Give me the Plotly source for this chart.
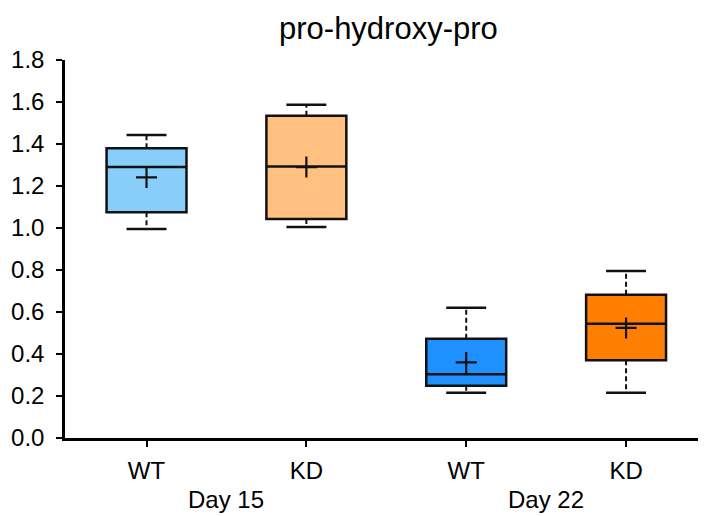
import plotly.graph_objects as go

groups = ["WT", "KD", "WT", "KD"]
days = ["Day 15", "Day 22"]
lower = [0.995, 1.005, 0.216, 0.216]
q1 = [1.075, 1.043, 0.249, 0.370]
median = [1.290, 1.293, 0.303, 0.544]
q3 = [1.380, 1.535, 0.473, 0.682]
upper = [1.443, 1.587, 0.620, 0.795]
mean = [1.241, 1.290, 0.360, 0.524]
colors = ["#87CEFA", "#FFC080", "#1E90FF", "#FF8000"]

yticks = [0.0, 0.2, 0.4, 0.6, 0.8, 1.0, 1.2, 1.4, 1.6, 1.8]

box_w = 0.5
cap_w = 0.25

fig = go.Figure()
for i in range(len(groups)):
    # dashed whiskers
    fig.add_trace(go.Scatter(
        x=[i, i, None, i, i], y=[q3[i], upper[i], None, q1[i], lower[i]],
        mode="lines", line=dict(color="#111111", width=2, dash="5px,3px"),
        hoverinfo="skip", showlegend=False))
    # caps
    fig.add_trace(go.Scatter(
        x=[i - cap_w / 2, i + cap_w / 2, None, i - cap_w / 2, i + cap_w / 2],
        y=[upper[i], upper[i], None, lower[i], lower[i]],
        mode="lines", line=dict(color="#111111", width=2.5),
        hoverinfo="skip", showlegend=False))
    # box
    fig.add_trace(go.Box(
        x=[i], q1=[q1[i]], median=[median[i]], q3=[q3[i]],
        lowerfence=[q1[i]], upperfence=[q3[i]],
        width=box_w, whiskerwidth=0,
        fillcolor=colors[i], line=dict(color="#111111", width=2.5),
        showlegend=False, boxpoints=False))
    # mean marker
    fig.add_trace(go.Scatter(
        x=[i], y=[mean[i]], mode="markers",
        marker=dict(symbol="cross-thin", size=15,
                    line=dict(color="#111111", width=2.2)),
        hoverinfo="skip", showlegend=False))

for k, d in enumerate(days):
    fig.add_annotation(x=2 * k + 0.5, xref="x", y=0, yref="paper",
                       yanchor="middle", yshift=-61, text=d, showarrow=False,
                       font=dict(size=24, color="black"))

fig.update_layout(
    width=698, height=508,
    margin=dict(l=57, r=0, t=52, b=78, autoexpand=False),
    paper_bgcolor="white", plot_bgcolor="white",
    font=dict(family="Liberation Sans, Arial, sans-serif", size=24, color="black"),
    title=dict(text="pro-hydroxy-pro", x=0.545, xanchor="center", y=0.961,
               yanchor="middle", font=dict(size=31, color="black")),
)
fig.update_xaxes(range=[-0.51, 3.5], tickmode="array", automargin=False,
                 tickvals=list(range(len(groups))), ticktext=groups,
                 ticklabelstandoff=3,
                 showline=True, linecolor="black", linewidth=2.5,
                 ticks="outside", ticklen=6, tickwidth=1.5, tickcolor="black",
                 showgrid=False, zeroline=False)
fig.update_yaxes(range=[0, 1.8], tickmode="array", tickvals=yticks, automargin=False,
                 ticktext=[f"{v:.1f}" for v in yticks],
                 ticklabelstandoff=7,
                 showline=True, linecolor="black", linewidth=2.5,
                 ticks="outside", ticklen=6, tickwidth=1.5, tickcolor="black",
                 showgrid=False, zeroline=False)

fig.write_html("out.html")
